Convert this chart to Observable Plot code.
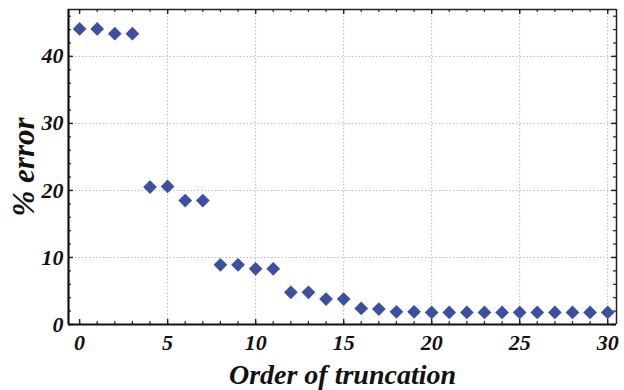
<!DOCTYPE html>
<html>
<head>
<meta charset="utf-8">
<script src="https://cdn.jsdelivr.net/npm/d3@7"></script>
<script src="https://cdn.jsdelivr.net/npm/@observablehq/plot@0.6"></script>
<style>
  html, body { margin: 0; padding: 0; background: #fff; }
  #chart svg { display: block; }
</style>
</head>
<body>
<div id="chart"></div>
<script>
// Data
const order = [0,1,2,3,4,5,6,7,8,9,10,11,12,13,14,15,16,17,18,19,20,21,22,23,24,25,26,27,28,29,30];
const percentError = [44.1,44.1,43.4,43.4,20.5,20.6,18.5,18.5,8.9,8.9,8.3,8.3,4.8,4.8,3.8,3.8,2.4,2.3,1.9,1.9,1.8,1.8,1.8,1.8,1.8,1.8,1.8,1.8,1.8,1.8,1.8];
const xTicks = [0,5,10,15,20,25,30];
const yTicks = [0,10,20,30,40];
const xMinor = d3.range(0, 31, 1);
const yMinor = d3.range(0, 47, 2);
const xLabel = "Order of truncation";
const yLabel = "% error";

const data = order.map((o, i) => ({order: o, err: percentError[i]}));

const xDom = [-0.63, 30.5];
const yDom = [0, 47];
const font = "'Liberation Serif', 'DejaVu Serif', serif";

// tick lengths in data units
const yPerPx = (yDom[1] - yDom[0]) / 315;
const xPerPx = (xDom[1] - xDom[0]) / 548;

const chart = Plot.plot({
  width: 624,
  height: 390,
  marginLeft: 68,
  marginRight: 8,
  marginTop: 9,
  marginBottom: 66,
  style: {fontFamily: font, background: "#fff"},
  x: {domain: xDom, axis: null},
  y: {domain: yDom, axis: null},
  marks: [
    // dotted grid
    Plot.ruleX(xTicks.filter(d => d > 0), {x: d => d, stroke: "#b8b8b8", strokeWidth: 1, strokeDasharray: "1.5,2"}),
    Plot.ruleY(yTicks.filter(d => d > 0), {y: d => d, stroke: "#b8b8b8", strokeWidth: 1, strokeDasharray: "1.5,2"}),
    // minor ticks (inward) bottom & top
    Plot.ruleX(xMinor, {x: d => d, y1: 0, y2: 3 * yPerPx, stroke: "#222", strokeWidth: 1.2}),
    Plot.ruleX(xMinor, {x: d => d, y1: yDom[1], y2: yDom[1] - 3 * yPerPx, stroke: "#222", strokeWidth: 1.2}),
    Plot.ruleX(xTicks, {x: d => d, y1: 0, y2: 5 * yPerPx, stroke: "#222", strokeWidth: 1.4}),
    Plot.ruleX(xTicks, {x: d => d, y1: yDom[1], y2: yDom[1] - 5 * yPerPx, stroke: "#222", strokeWidth: 1.4}),
    // minor ticks left & right
    Plot.ruleY(yMinor, {y: d => d, x1: xDom[0], x2: xDom[0] + 3 * xPerPx, stroke: "#222", strokeWidth: 1.2}),
    Plot.ruleY(yMinor, {y: d => d, x1: xDom[1], x2: xDom[1] - 3 * xPerPx, stroke: "#222", strokeWidth: 1.2}),
    Plot.ruleY(yTicks, {y: d => d, x1: xDom[0], x2: xDom[0] + 5 * xPerPx, stroke: "#222", strokeWidth: 1.4}),
    Plot.ruleY(yTicks, {y: d => d, x1: xDom[1], x2: xDom[1] - 5 * xPerPx, stroke: "#222", strokeWidth: 1.4}),
    // frame
    Plot.ruleY([yDom[1]], {stroke: "#222", strokeWidth: 1.5}),
    Plot.ruleX([xDom[1]], {stroke: "#222", strokeWidth: 1.5}),
    Plot.ruleY([0], {stroke: "#111", strokeWidth: 2.2}),
    Plot.ruleX([xDom[0]], {stroke: "#111", strokeWidth: 2.2}),
    // tick labels
    Plot.text(xTicks, {x: d => d, y: 0, text: d => String(d), dy: 18, fontSize: 22, fontWeight: "bold", fontStyle: "italic", fill: "#111"}),
    Plot.text(yTicks, {x: xDom[0], y: d => d, text: d => String(d), dx: -5, textAnchor: "end", fontSize: 22, fontWeight: "bold", fontStyle: "italic", fill: "#111"}),
    // points
    Plot.dot(data, {x: "order", y: "err", symbol: "diamond2", r: 6.2, fill: "#3a51a3", stroke: "none"}),
    // axis titles
    Plot.text([xLabel], {frameAnchor: "bottom", dy: 59, text: d => d, fontSize: 28, fontWeight: "bold", fontStyle: "italic", fill: "#111"}),
    Plot.text([yLabel], {frameAnchor: "left", textAnchor: "middle", dx: -44, rotate: -90, text: d => d, fontSize: 31, fontWeight: "bold", fontStyle: "italic", fill: "#111"})
  ]
});
document.getElementById("chart").appendChild(chart);
</script>
</body>
</html>
